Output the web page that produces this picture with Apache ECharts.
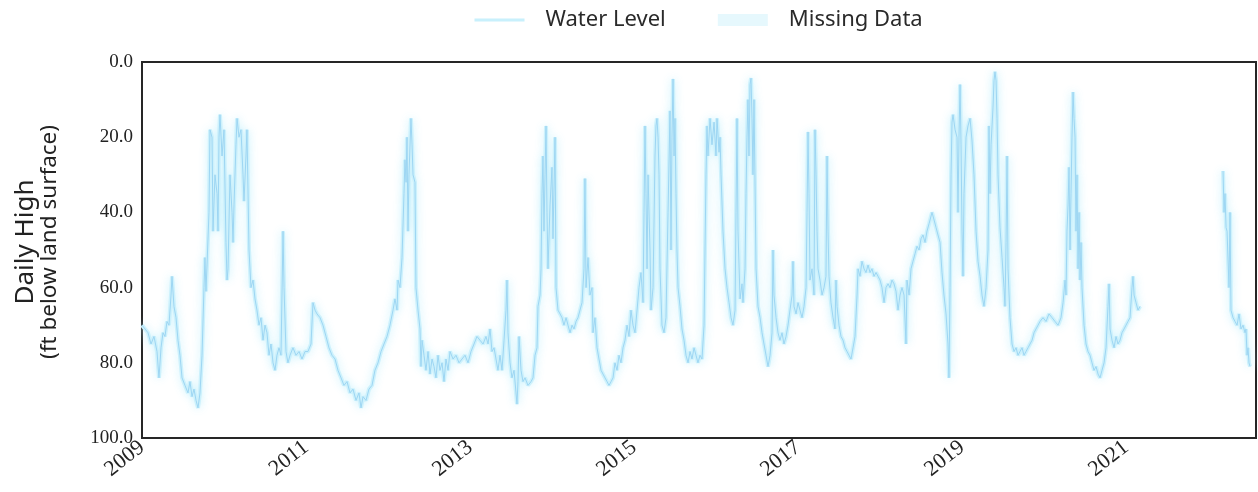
<!DOCTYPE html>
<html>
<head>
<meta charset="utf-8">
<script src="https://cdn.jsdelivr.net/npm/echarts@6/dist/echarts.min.js"></script>
<style>
html,body{margin:0;padding:0;background:#ffffff;}
#chart{width:1258px;height:492px;}
</style>
</head>
<body>
<div id="chart"></div>
<script>
// decimal years of each reading
const years = [
2009.000,2009.037,2009.073,2009.110,2009.146,2009.183,2009.207,2009.232,2009.256,2009.280,2009.305,2009.329,2009.354,2009.366,2009.390,2009.415,2009.439,2009.463,2009.488,2009.524,2009.561,2009.585,2009.610,2009.634,2009.659,2009.683,2009.707,2009.732,2009.756,2009.768,2009.780,2009.793,2009.817,2009.829,2009.854,2009.866,2009.890,2009.915,2009.927,2009.939,2009.951,2009.976,
2010.000,2010.024,2010.037,2010.049,2010.073,2010.098,2010.110,2010.122,2010.146,2010.159,2010.183,2010.207,2010.232,2010.244,2010.268,2010.280,2010.305,2010.329,2010.354,2010.378,2010.402,2010.427,2010.451,2010.476,2010.500,2010.524,2010.549,2010.573,2010.598,2010.622,2010.646,2010.671,2010.695,2010.720,2010.732,2010.756,2010.780,2010.805,2010.841,2010.878,2010.915,2010.951,2010.988,
2011.024,2011.061,2011.085,2011.110,2011.134,2011.171,2011.207,2011.244,2011.280,2011.317,2011.354,2011.390,2011.427,2011.463,2011.500,2011.537,2011.573,2011.610,2011.646,2011.671,2011.695,2011.732,2011.768,2011.805,2011.841,2011.878,2011.915,2011.951,2011.988,
2012.024,2012.061,2012.085,2012.110,2012.122,2012.146,2012.171,2012.195,2012.207,2012.220,2012.232,2012.244,2012.256,2012.280,2012.293,2012.305,2012.329,2012.341,2012.366,2012.390,2012.402,2012.415,2012.439,2012.463,2012.488,2012.512,2012.537,2012.561,2012.585,2012.610,2012.634,2012.659,2012.683,2012.707,2012.732,2012.756,2012.793,2012.829,2012.866,2012.902,2012.939,2012.976,
2013.012,2013.049,2013.085,2013.122,2013.159,2013.195,2013.220,2013.244,2013.268,2013.293,2013.317,2013.341,2013.366,2013.390,2013.415,2013.439,2013.451,2013.463,2013.488,2013.512,2013.537,2013.561,2013.573,2013.585,2013.598,2013.622,2013.646,2013.671,2013.707,2013.744,2013.768,2013.793,2013.817,2013.829,2013.854,2013.866,2013.878,2013.890,2013.902,2013.915,2013.927,2013.939,2013.951,2013.976,
2014.000,2014.012,2014.037,2014.049,2014.073,2014.098,2014.122,2014.146,2014.171,2014.195,2014.220,2014.244,2014.268,2014.293,2014.317,2014.341,2014.366,2014.390,2014.402,2014.415,2014.439,2014.463,2014.488,2014.500,2014.524,2014.549,2014.573,2014.598,2014.622,2014.646,2014.671,2014.695,2014.720,2014.744,2014.768,2014.793,2014.817,2014.841,2014.866,2014.890,2014.915,2014.939,2014.963,2014.988,
2015.012,2015.037,2015.061,2015.085,2015.110,2015.122,2015.134,2015.146,2015.159,2015.171,2015.195,2015.207,2015.232,2015.256,2015.268,2015.280,2015.293,2015.305,2015.317,2015.341,2015.366,2015.390,2015.415,2015.439,2015.451,2015.463,2015.476,2015.488,2015.500,2015.512,2015.524,2015.537,2015.561,2015.585,2015.610,2015.634,2015.659,2015.683,2015.707,2015.732,2015.756,2015.780,2015.805,2015.829,2015.854,2015.866,2015.878,2015.890,2015.902,2015.927,2015.951,2015.976,
2016.000,2016.012,2016.037,2016.049,2016.061,2016.085,2016.110,2016.134,2016.159,2016.183,2016.207,2016.232,2016.244,2016.256,2016.268,2016.293,2016.317,2016.329,2016.354,2016.366,2016.378,2016.390,2016.402,2016.415,2016.427,2016.439,2016.451,2016.463,2016.476,2016.488,2016.512,2016.537,2016.561,2016.585,2016.610,2016.634,2016.659,2016.683,2016.695,2016.707,2016.732,2016.756,2016.780,2016.805,2016.829,2016.854,2016.878,2016.902,2016.927,2016.939,2016.951,2016.976,
2017.000,2017.024,2017.049,2017.073,2017.098,2017.110,2017.122,2017.134,2017.146,2017.171,2017.195,2017.207,2017.220,2017.232,2017.244,2017.268,2017.293,2017.317,2017.341,2017.354,2017.366,2017.378,2017.402,2017.427,2017.451,2017.463,2017.476,2017.500,2017.524,2017.549,2017.573,2017.598,2017.622,2017.646,2017.671,2017.695,2017.720,2017.732,2017.756,2017.780,2017.805,2017.829,2017.854,2017.878,2017.902,2017.927,2017.951,2017.976,
2018.000,2018.024,2018.049,2018.073,2018.098,2018.122,2018.146,2018.171,2018.195,2018.220,2018.244,2018.268,2018.293,2018.317,2018.329,2018.354,2018.378,2018.402,2018.427,2018.451,2018.476,2018.500,2018.524,2018.549,2018.573,2018.598,2018.622,2018.634,2018.659,2018.683,2018.707,2018.732,2018.756,2018.780,2018.805,2018.829,2018.841,2018.854,2018.866,2018.878,2018.890,2018.915,2018.939,2018.951,2018.963,2018.976,2018.988,
2019.000,2019.012,2019.024,2019.049,2019.073,2019.098,2019.122,2019.146,2019.171,2019.195,2019.220,2019.244,2019.268,2019.293,2019.317,2019.329,2019.341,2019.354,2019.378,2019.390,2019.402,2019.415,2019.427,2019.439,2019.463,2019.488,2019.512,2019.524,2019.537,2019.549,2019.561,2019.585,2019.610,2019.634,2019.659,2019.683,2019.707,2019.732,2019.756,2019.780,2019.805,2019.829,2019.854,2019.878,2019.902,2019.927,2019.951,2019.988,
2020.024,2020.061,2020.098,2020.134,2020.171,2020.207,2020.232,2020.256,2020.268,2020.280,2020.293,2020.305,2020.317,2020.329,2020.341,2020.354,2020.366,2020.378,2020.390,2020.402,2020.415,2020.427,2020.439,2020.451,2020.463,2020.488,2020.512,2020.537,2020.561,2020.585,2020.610,2020.634,2020.659,2020.683,2020.707,2020.732,2020.756,2020.780,2020.793,2020.805,2020.829,2020.854,2020.878,2020.902,2020.927,2020.951,2020.976,
2021.000,2021.024,2021.049,2021.073,2021.085,2021.098,2021.122,2021.146,2021.171,
2021.680,
2022.183,2022.195,2022.207,2022.220,2022.232,2022.256,2022.268,2022.280,2022.305,2022.329,2022.354,2022.378,2022.402,2022.427,2022.451,2022.463,2022.476,2022.488,2022.500,2022.512
];
// daily high, ft below land surface (null = no record)
const levels = [
70,71,72,75,73,77,84,76,72,73,69,70,62,57,65,68,74,78,84,86,88,85,89,87,90,92,88,78,60,52,61,54,40,18,20,45,30,35,45,20,14,25,
18,48,58,55,30,40,48,38,22,15,20,18,30,37,25,18,50,60,58,63,66,70,68,74,70,72,78,75,80,82,78,76,78,45,60,77,80,78,76,78,77,79,77,
77,75,64,66,67,68,70,73,76,78,79,82,84,86,85,88,87,90,88,92,89,90,87,86,82,80,77,75,73,
70,66,63,66,58,60,52,35,26,32,20,45,30,15,22,30,32,60,66,71,81,74,78,82,77,83,79,81,84,78,82,80,85,79,82,77,79,78,80,79,78,80,
77,75,73,74,75,73,75,71,77,76,79,82,78,82,74,66,58,72,80,84,82,88,91,85,73,82,85,84,86,85,84,78,76,65,62,55,35,25,45,30,17,40,55,38,
28,47,20,60,66,67,68,70,68,70,72,70,71,69,68,66,64,55,31,60,52,62,60,72,68,76,79,82,83,84,85,86,85,84,80,82,78,80,76,74,70,73,66,70,
72,66,60,56,64,40,17,35,55,30,50,66,60,25,17,15,20,30,55,70,72,68,40,13,50,20,4.5,25,15,35,50,60,65,71,74,78,80,77,79,76,78,80,78,79,70,50,30,17,25,15,22,16,
25,15,24,20,30,45,55,60,64,68,70,66,40,15,45,63,59,64,55,35,20,10,25,6,4.3,15,30,10,33,55,65,68,72,75,78,81,78,72,50,62,68,72,74,72,75,73,70,66,62,53,65,67,
64,66,68,65,60,40,18.6,35,58,55,62,18,30,45,55,58,62,60,57,25,45,57,64,68,71,58,65,70,73,74,76,77,78,79,76,73,62,55,57,53,55,56,54,56,55,57,56,57,
58,60,64,60,59,60,58,59,61,66,62,60,62,75,58,62,55,53,51,49,50,47,46,48,45,43,41,40,42,44,46,48,56,62,67,75,84,60,30,16,14,18,20,40,20,6,22,
45,57,35,20,17,15,21,30,45,53,57,62,65,60,50,17,35,22,12,5,2.6,5,15,30,44,52,60,65,48,25,55,68,75,77,76,78,77,76,78,77,76,75,74,72,71,70,69,68,
69,67,68,69,70,68,64,58,62,45,38,28,50,35,20,8,15,20,45,30,55,40,58,48,60,70,75,77,78,80,82,81,83,84,82,80,76,65,59,71,74,76,73,75,74,72,71,
70,69,68,60,57,62,64,66,65,
null,
29,40,35,44,45,60,40,66,68,69,70,67,71,70,72,71,78,76,80,81
];
const yTicks = [0, 20, 40, 60, 80, 100];
const xLabelYears = [2009, 2011, 2013, 2015, 2017, 2019, 2021];
const axisStart = 2009;
const axisEnd = 2022.585;

const points = years.map((y, i) => [y, levels[i]]);

const chart = echarts.init(document.getElementById('chart'), null, {renderer: 'canvas'});
chart.setOption({
  backgroundColor: '#ffffff',
  animation: false,
  legend: {
    top: 4,
    left: 468,
    itemWidth: 50,
    itemHeight: 12,
    itemGap: 52,
    textStyle: {fontFamily: 'Noto Sans', fontSize: 22, color: '#2a2a2a', padding: [0, 0, 0, 16]},
    data: [
      {name: 'Water Level', itemStyle: {opacity: 0}, lineStyle: {color: '#c8f0fc', width: 3}},
      {name: 'Missing Data', icon: 'rect', itemStyle: {color: '#e6f8fd'}}
    ]
  },
  grid: {
    left: 142, right: 2, top: 62, bottom: 54,
    show: true, borderColor: '#262626', borderWidth: 2, backgroundColor: 'transparent'
  },
  xAxis: {
    type: 'value',
    min: axisStart, max: axisEnd, interval: 2,
    axisLine: {show: false}, axisTick: {show: false}, splitLine: {show: false},
    axisLabel: {
      rotate: 38, margin: 7, showMaxLabel: false,
      fontFamily: 'Liberation Serif', fontSize: 22, color: '#222',
      formatter: v => xLabelYears.indexOf(Math.round(v)) >= 0 && Math.abs(v - Math.round(v)) < 1e-6 ? String(Math.round(v)) : ''
    }
  },
  yAxis: {
    type: 'value', inverse: true, min: yTicks[0], max: yTicks[yTicks.length - 1], interval: 20,
    axisLine: {show: false}, axisTick: {show: false}, splitLine: {show: false},
    axisLabel: {
      margin: 9, fontFamily: 'Liberation Serif', fontSize: 19, color: '#222',
      formatter: v => v.toFixed(1)
    },
    name: '{a|Daily High}\n{b|(ft below land surface)}',
    nameLocation: 'middle', nameGap: 80, nameRotate: 90,
    nameTextStyle: {
      fontFamily: 'Noto Sans', color: '#222', padding: [0, 0, 0, 16],
      rich: {
        a: {fontFamily: 'Noto Sans', fontSize: 26, color: '#222', lineHeight: 25},
        b: {fontFamily: 'Noto Sans', fontSize: 22.5, color: '#222', lineHeight: 24}
      }
    }
  },
  series: [
    {
      name: 'Water Level', type: 'line', data: points, showSymbol: false, symbol: 'none',
      connectNulls: false, z: 2,
      color: '#c8f0fc',
      lineStyle: {color: '#cdf1fc', width: 4, shadowColor: 'rgba(200,242,253,0.9)', shadowBlur: 8}
    },
    {
      name: 'Water Level', type: 'line', data: points, showSymbol: false, symbol: 'none',
      connectNulls: false, z: 3,
      lineStyle: {color: '#9dd6f3', width: 1}
    },
    {
      name: 'Missing Data', type: 'line', data: [], symbol: 'none',
      color: '#e6f8fd'
    }
  ]
});
</script>
</body>
</html>
